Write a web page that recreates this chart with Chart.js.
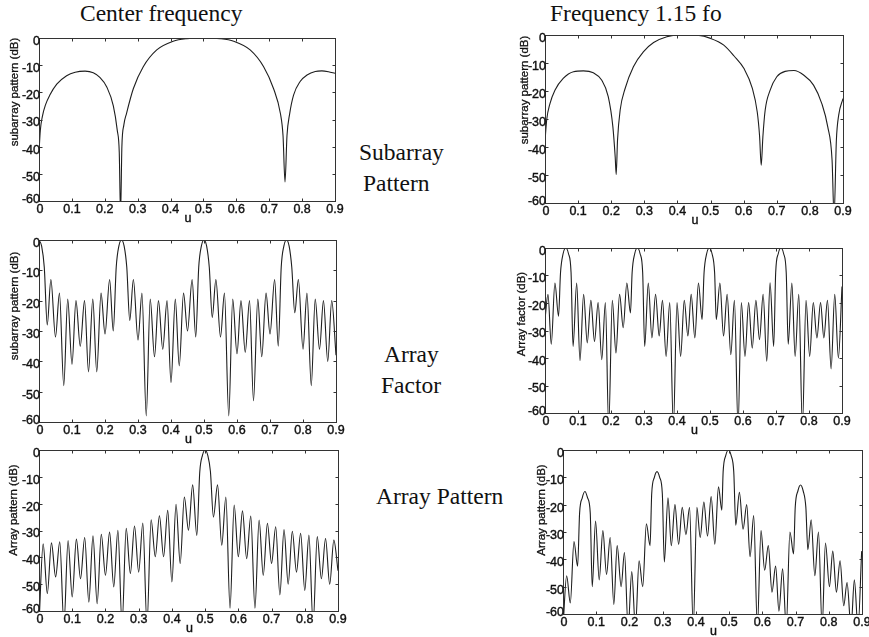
<!DOCTYPE html>
<html>
<head>
<meta charset="utf-8">
<script src="https://cdn.jsdelivr.net/npm/chart.js@4.4.0/dist/chart.umd.min.js"></script>
<style>
  html, body { margin: 0; padding: 0; background: #fff; }
  body { width: 869px; height: 637px; position: relative; overflow: hidden; }
  canvas { position: absolute; }
  .cap { position: absolute; font-family: "Liberation Serif", "Times New Roman", serif; font-size: 23.5px; line-height: 24px; color: #111; white-space: nowrap; }
</style>
</head>
<body>
<div class="cap" style="left:80px;top:1px">Center frequency</div>
<div class="cap" style="left:550px;top:1px">Frequency 1.15 fo</div>
<div class="cap" style="left:359px;top:140px">Subarray</div>
<div class="cap" style="left:363px;top:171px">Pattern</div>
<div class="cap" style="left:384px;top:342px">Array</div>
<div class="cap" style="left:381px;top:373px">Factor</div>
<div class="cap" style="left:376px;top:484px">Array Pattern</div>
<script>
// axis ticks (all six panels share them)
const X_TICKS = [0, 0.1, 0.2, 0.3, 0.4, 0.5, 0.6, 0.7, 0.8, 0.9];
const X_LABELS = ['0', '0.1', '0.2', '0.3', '0.4', '0.5', '0.6', '0.7', '0.8', '0.9'];
const Y_TICKS = [0, -10, -20, -30, -40, -50, -60];
const Y_LABELS = ['0', '-10', '-20', '-30', '-40', '-50', '-60'];

// subarray pattern, centre frequency
const subCenterU = [0, 0.004, 0.01, 0.02, 0.033, 0.054, 0.084, 0.11, 0.14, 0.165, 0.185, 0.206, 0.226, 0.238, 0.244, 0.248, 0.252, 0.258, 0.266, 0.287, 0.317, 0.358, 0.408, 0.449, 0.5, 0.551, 0.592, 0.642, 0.683, 0.713, 0.734, 0.742, 0.748, 0.754, 0.762, 0.774, 0.794, 0.815, 0.84, 0.86, 0.88, 0.9];
const subCenterDb = [-42, -34, -29, -24.5, -21, -17, -13.9, -12.6, -12.2, -12.8, -14.5, -18, -25, -34, -42, -65, -40, -32, -27.8, -18.6, -10.6, -4.4, -1.2, -0.25, 0, -0.25, -1.2, -4.4, -10.6, -18.6, -27.8, -36, -53, -36, -28, -21, -16, -13.6, -12.3, -12.1, -12.4, -13];

// subarray pattern, 1.15 fo
const subHighU = [0, 0.005, 0.015, 0.03, 0.055, 0.086, 0.116, 0.146, 0.171, 0.191, 0.205, 0.212, 0.215, 0.219, 0.227, 0.242, 0.267, 0.297, 0.328, 0.368, 0.408, 0.434, 0.46, 0.5, 0.54, 0.571, 0.601, 0.626, 0.641, 0.648, 0.653, 0.658, 0.665, 0.68, 0.7, 0.725, 0.752, 0.781, 0.811, 0.836, 0.854, 0.867, 0.873, 0.88, 0.887, 0.9];
const subHighDb = [-38, -30.4, -24.5, -19.7, -15.5, -13.1, -12.8, -13.5, -16.1, -22, -32.8, -43.6, -49.8, -37.6, -26.8, -19.1, -11.3, -6, -2.7, -0.6, 0, 0, -0.1, -1.2, -3.6, -7.5, -12, -19, -27.5, -36, -46.5, -36.4, -26.8, -19.7, -14.9, -13, -12.7, -14.3, -17.9, -24.5, -32.8, -44.7, -65, -37.6, -28.6, -22.7];

// array factor, centre frequency
const afCenterPeakU = [0, 0.036, 0.062, 0.087, 0.112, 0.138, 0.163, 0.188, 0.214, 0.25, 0.286, 0.312, 0.337, 0.362, 0.388, 0.413, 0.438, 0.464, 0.5, 0.536, 0.562, 0.587, 0.612, 0.638, 0.663, 0.688, 0.714, 0.75, 0.786, 0.812, 0.837, 0.862, 0.887];
const afCenterPeakDb = [0, -13, -17.5, -19.5, -20, -20, -19.5, -17.5, -13, 0, -13, -17.5, -19.5, -20, -20, -19.5, -17.5, -13, 0, -13, -17.5, -19.5, -20, -20, -19.5, -17.5, -13, 0, -13, -17.5, -19.5, -20, -20];
const afCenterNullU = [0.025, 0.05, 0.075, 0.1, 0.125, 0.15, 0.175, 0.2, 0.225, 0.275, 0.3, 0.325, 0.35, 0.375, 0.4, 0.425, 0.45, 0.475, 0.525, 0.55, 0.575, 0.6, 0.625, 0.65, 0.675, 0.7, 0.725, 0.775, 0.8, 0.825, 0.85, 0.875, 0.9];
const afCenterNullDb = [-28, -32, -48, -41, -35, -43.5, -43.5, -31, -30, -26.5, -33, -58, -38.5, -36, -47, -41.5, -30, -32, -25.5, -32, -58, -37.5, -37, -53, -38.5, -31, -35, -24, -36, -48, -36, -40, -38];
const afCenterSideU = [0.008, 0.016, 0.234, 0.242, 0.258, 0.266, 0.484, 0.492, 0.508, 0.516, 0.734, 0.742, 0.758, 0.766];
const afCenterSideDb = [-2, -9, -9, -2, -2, -9, -9, -2, -2, -9, -9, -2, -2, -9];

// array factor, 1.15 fo
const afHighPeakU = [0.009, 0.030, 0.063, 0.096, 0.117, 0.139, 0.161, 0.183, 0.204, 0.226, 0.248, 0.28, 0.313, 0.335, 0.356, 0.378, 0.4, 0.422, 0.443, 0.465, 0.498, 0.53, 0.552, 0.574, 0.595, 0.617, 0.639, 0.661, 0.682, 0.715, 0.748, 0.769, 0.791, 0.813, 0.835, 0.856, 0.878, 0.9];
const afHighPeakDb = [-16.8, -12.7, 0, -12.7, -16.8, -19, -19.8, -19.8, -19, -16.8, -12.7, 0, -12.7, -16.8, -19, -19.8, -19.8, -19, -16.8, -12.7, 0, -12.7, -16.8, -19, -19.8, -19.8, -19, -16.8, -12.7, 0, -12.7, -16.8, -19, -19.8, -19.8, -19, -16.8, -14];
const afHighNullU = [0, 0.019, 0.041, 0.085, 0.106, 0.128, 0.15, 0.172, 0.193, 0.215, 0.237, 0.259, 0.302, 0.324, 0.346, 0.367, 0.389, 0.411, 0.433, 0.454, 0.476, 0.519, 0.541, 0.563, 0.585, 0.606, 0.628, 0.65, 0.672, 0.693, 0.737, 0.758, 0.78, 0.802, 0.824, 0.845, 0.867, 0.889];
const afHighNullDb = [-26, -35, -24.8, -35.8, -41, -34.5, -34, -40.6, -65, -38.2, -29, -23.6, -35.8, -32.7, -32, -39.4, -65, -39.4, -32, -32.7, -26, -26, -32, -38.8, -65, -39.4, -36.4, -33.3, -41.2, -35.8, -35, -39.4, -65, -39.4, -32.7, -32.7, -44, -40];
const afHighSideU = [0.047, 0.055, 0.071, 0.079, 0.264, 0.272, 0.288, 0.296, 0.482, 0.49, 0.506, 0.514, 0.699, 0.707, 0.723, 0.731];
const afHighSideDb = [-9, -2, -2, -9, -9, -2, -2, -9, -9, -2, -2, -9, -9, -2, -2, -9];

// array pattern, centre frequency
const apCenterPeakU = [0.0125, 0.0375, 0.0625, 0.0875, 0.1125, 0.1375, 0.1625, 0.1875, 0.2125, 0.2375, 0.2625, 0.2875, 0.3125, 0.3375, 0.3625, 0.3875, 0.4125, 0.4375, 0.4625, 0.5, 0.5375, 0.5625, 0.5875, 0.6125, 0.6375, 0.6625, 0.6875, 0.7125, 0.7375, 0.7625, 0.7875, 0.8125, 0.8375, 0.8625, 0.8875];
const apCenterPeakDb = [-35, -34.6, -34.2, -33.7, -33.2, -32.6, -32, -31.4, -30.6, -29.9, -29.2, -28.3, -27.2, -26, -24.5, -22.5, -20.2, -17.5, -13, 0, -13, -17.5, -20.5, -22.7, -24.6, -26.1, -27.3, -28.6, -29.6, -30.3, -31, -31.7, -32.3, -33, -33.6];
const apCenterNullU = [0, 0.025, 0.05, 0.075, 0.1, 0.125, 0.15, 0.175, 0.2, 0.225, 0.25, 0.275, 0.3, 0.325, 0.35, 0.375, 0.4, 0.425, 0.45, 0.475, 0.525, 0.55, 0.575, 0.6, 0.625, 0.65, 0.675, 0.7, 0.725, 0.75, 0.775, 0.8, 0.825, 0.85, 0.875, 0.9];
const apCenterNullDb = [-65, -53.5, -47.3, -65, -54.8, -48, -56.7, -57.3, -46.7, -51, -65, -46, -45.5, -65, -39.8, -39.8, -49.2, -42.3, -29.9, -31.8, -25, -35.5, -59, -39.8, -40.5, -59, -46.7, -42.3, -54, -50, -45.5, -52.3, -65, -48, -50, -45];
const apCenterSideU = [0.484, 0.492, 0.508, 0.516];
const apCenterSideDb = [-8, -2, -2, -8];

// array pattern, 1.15 fo
const apHighPeakU = [0.011, 0.033, 0.066, 0.098, 0.12, 0.142, 0.163, 0.185, 0.207, 0.229, 0.251, 0.283, 0.316, 0.337, 0.359, 0.381, 0.403, 0.424, 0.446, 0.468, 0.498, 0.531, 0.553, 0.574, 0.596, 0.618, 0.64, 0.661, 0.683, 0.715, 0.747, 0.769, 0.79, 0.812, 0.834, 0.855, 0.877, 0.899];
const apHighPeakDb = [-46, -33.5, -15.2, -26, -29.5, -32, -35, -37.5, -44.5, -40.5, -27, -7.9, -17.5, -20, -21, -21, -21, -19, -17, -13.5, 0, -15.5, -20, -24, -29.5, -35, -42.5, -43.5, -30, -12.8, -25.5, -30, -34, -37, -40.5, -48.5, -47.5, -37];
const apHighNullU = [0, 0.022, 0.044, 0.088, 0.109, 0.131, 0.153, 0.175, 0.196, 0.218, 0.24, 0.262, 0.305, 0.326, 0.348, 0.37, 0.392, 0.413, 0.435, 0.457, 0.478, 0.52, 0.542, 0.563, 0.585, 0.607, 0.629, 0.65, 0.672, 0.694, 0.737, 0.758, 0.78, 0.802, 0.823, 0.845, 0.867, 0.888];
const apHighNullDb = [-65, -56, -42.5, -50, -47.5, -45.5, -56.5, -50, -65, -65, -50, -35, -41, -35, -34.5, -31, -65, -32, -31.5, -34.5, -22, -27.5, -29, -39, -65, -44, -52, -59, -65, -38, -36.5, -46, -65, -50, -52, -57, -65, -65];
const apHighSideU = [0.05, 0.058, 0.074, 0.082, 0.267, 0.275, 0.291, 0.299, 0.482, 0.49, 0.506, 0.514, 0.699, 0.707, 0.723, 0.731];
const apHighSideDb = [-23, -17.5, -17.5, -23, -16, -10, -10, -16, -8, -2, -2, -8, -21, -15, -15, -21];

// join (u, dB) lists into one sorted series
function toPoints(...pairs) {
  const pts = [];
  pairs.forEach(([us, dbs]) => us.forEach((u, i) => pts.push({ x: u, y: dbs[i] })));
  return pts.sort((a, b) => a.x - b.x);
}

// text with a faint outline, looks closer to the scanned print
function heavyText(ctx, s, x, y) {
  ctx.fillText(s, x, y);
  ctx.strokeText(s, x, y);
}

// MATLAB-like box, inward ticks and labels
const boxAxes = {
  id: 'boxAxes',
  afterDraw(chart, args, opts) {
    const { ctx, chartArea: a, scales: { x, y } } = chart;
    const L = Math.round(a.left) + 0.5, R = Math.round(a.right) + 0.5;
    const T = Math.round(a.top) + 0.5, B = Math.round(a.bottom) + 0.5;
    ctx.save();
    ctx.strokeStyle = '#333';
    ctx.lineWidth = 1;
    ctx.strokeRect(L, T, R - L, B - T);
    ctx.beginPath();
    X_TICKS.forEach(v => {
      const px = Math.round(x.getPixelForValue(v)) + 0.5;
      ctx.moveTo(px, B); ctx.lineTo(px, B - 3);
      ctx.moveTo(px, T); ctx.lineTo(px, T + 3);
    });
    Y_TICKS.forEach(v => {
      const py = Math.round(y.getPixelForValue(v)) + 0.5;
      ctx.moveTo(L, py); ctx.lineTo(L + 3, py);
      ctx.moveTo(R, py); ctx.lineTo(R - 3, py);
    });
    ctx.stroke();

    ctx.fillStyle = '#111';
    ctx.strokeStyle = '#111';
    ctx.lineWidth = 0.4;
    ctx.font = '12.5px "Liberation Sans", Arial, sans-serif';
    ctx.textBaseline = 'middle';
    ctx.textAlign = 'center';
    X_TICKS.forEach((v, i) => heavyText(ctx, X_LABELS[i], x.getPixelForValue(v) + (i === 0 ? 1 : 0), a.bottom + 9));
    heavyText(ctx, 'u', x.getPixelForValue(0.453), a.bottom + 18);
    ctx.textAlign = 'right';
    Y_TICKS.forEach((v, i) => heavyText(ctx, Y_LABELS[i], a.left + 1, y.getPixelForValue(v) + (v === -60 ? -1 : 3.5)));

    ctx.translate(opts.labelX, opts.labelY);
    ctx.rotate(-Math.PI / 2);
    ctx.textAlign = 'center';
    ctx.lineWidth = 0.3;
    ctx.font = '11.5px "Liberation Sans", Arial, sans-serif';
    heavyText(ctx, opts.label, 0, 0);
    ctx.restore();
  }
};

const panels = [
  { box: [39, 38, 335, 201], label: 'subarray pattern (dB)', lx: 15, ly: 92, pts: toPoints([subCenterU, subCenterDb]) },
  { box: [545, 35, 843, 203], label: 'subarray pattern (dB)', lx: 525, ly: 90, pts: toPoints([subHighU, subHighDb]) },
  { box: [39, 240, 336, 422], label: 'subarray pattern (dB)', lx: 15, ly: 306, pts: toPoints([afCenterPeakU, afCenterPeakDb], [afCenterNullU, afCenterNullDb], [afCenterSideU, afCenterSideDb]) },
  { box: [545, 248, 842, 413], label: 'Array factor (dB)', lx: 522, ly: 314, pts: toPoints([afHighPeakU, afHighPeakDb], [afHighNullU, afHighNullDb], [afHighSideU, afHighSideDb]) },
  { box: [39, 450, 338, 611], label: 'Array pattern (dB)', lx: 14, ly: 510, pts: toPoints([apCenterPeakU, apCenterPeakDb], [apCenterNullU, apCenterNullDb], [apCenterSideU, apCenterSideDb]) },
  { box: [563, 450, 862, 614], label: 'Array pattern (dB)', lx: 542, ly: 510, pts: toPoints([apHighPeakU, apHighPeakDb], [apHighNullU, apHighNullDb], [apHighSideU, apHighSideDb]) }
];

panels.forEach(p => {
  const [l, t, r, b] = p.box;
  const pad = { left: 40, top: 10, right: 16, bottom: 30 };
  const cv = document.createElement('canvas');
  cv.width = r - l + pad.left + pad.right;
  cv.height = b - t + pad.top + pad.bottom;
  cv.style.left = (l - pad.left) + 'px';
  cv.style.top = (t - pad.top) + 'px';
  document.body.appendChild(cv);

  new Chart(cv.getContext('2d'), {
    type: 'line',
    data: {
      datasets: [{
        data: p.pts,
        borderColor: '#1e1e1e',
        borderWidth: 1.1,
        pointRadius: 0,
        fill: false,
        cubicInterpolationMode: 'monotone'
      }]
    },
    options: {
      responsive: false,
      animation: false,
      devicePixelRatio: 1,
      events: [],
      layout: { padding: pad },
      plugins: {
        legend: { display: false },
        tooltip: { enabled: false },
        boxAxes: { label: p.label, labelX: p.lx - (l - pad.left), labelY: p.ly - (t - pad.top) }
      },
      scales: {
        x: { type: 'linear', min: 0, max: 0.9, display: false },
        y: { min: -60, max: 0, display: false }
      }
    },
    plugins: [boxAxes]
  });
});
</script>
</body>
</html>
